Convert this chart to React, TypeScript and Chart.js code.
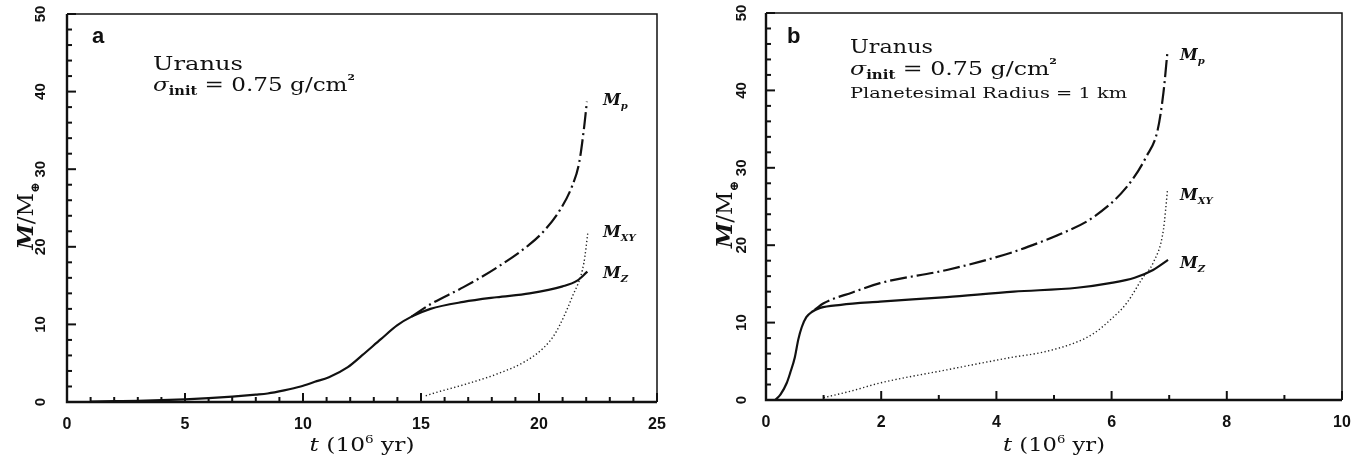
import React, { useEffect, useRef } from "react";
import { Chart, registerables } from "chart.js";

Chart.register(...registerables);

// ---------- Panel a data (t in 10^6 yr, M in Earth masses) ----------
const aTimeZ = [1.0, 2, 3, 4, 5, 6, 7, 8, 8.5, 9.2, 9.9, 10.5, 11.1, 11.9, 12.5, 13.3, 14.0, 14.6, 15.4, 16.8, 18.2, 19.6, 21.0, 21.6, 22.05];
const aMassZ = [0.05, 0.1, 0.15, 0.25, 0.35, 0.5, 0.7, 0.95, 1.1, 1.5, 2.0, 2.6, 3.2, 4.5, 6.0, 8.1, 9.9, 11.0, 12.0, 12.9, 13.5, 14.0, 14.9, 15.6, 16.8];
const aTimeP = [14.6, 15.4, 16.8, 18.2, 19.6, 20.2, 20.9, 21.4, 21.7, 21.9, 22.03];
const aMassP = [11.0, 12.6, 14.8, 17.3, 20.3, 22.0, 24.8, 27.8, 30.8, 35.1, 38.7];
const aTimeXY = [15.2, 15.5, 16.9, 18.3, 19.4, 20.2, 20.7, 21.4, 21.9, 22.07];
const aMassXY = [0.8, 1.1, 2.3, 3.7, 5.2, 7.0, 8.9, 13.5, 17.9, 21.8];

// ---------- Panel b data ----------
const bTimeZ = [0.16, 0.25, 0.36, 0.42, 0.5, 0.56, 0.62, 0.7, 0.8, 0.94, 1.3, 1.98, 3.14, 4.3, 5.4, 5.97, 6.4, 6.72, 6.98];
const bMassZ = [0, 0.7, 2.2, 3.5, 5.5, 7.8, 9.4, 10.7, 11.4, 11.9, 12.3, 12.7, 13.3, 14.0, 14.5, 15.1, 15.8, 16.8, 18.1];
const bTimeP = [0.85, 1.0, 1.5, 1.98, 3.14, 4.24, 4.8, 5.1, 5.68, 6.26, 6.6, 6.8, 6.9, 6.97];
const bMassP = [11.7, 12.5, 13.9, 15.1, 16.8, 19.0, 20.5, 21.4, 23.6, 27.5, 31.4, 34.9, 39.7, 45.0];
const bTimeXY = [1.0, 1.5, 1.98, 3.14, 4.26, 4.82, 5.4, 5.69, 5.97, 6.26, 6.55, 6.72, 6.9, 6.97];
const bMassXY = [0.3, 1.2, 2.2, 3.9, 5.5, 6.2, 7.5, 8.6, 10.3, 12.5, 15.9, 17.7, 22.0, 27.1];

// ---------- Axes ----------
const yTickLabels = [0, 10, 20, 30, 40, 50];
const aXTickLabels = [0, 5, 10, 15, 20, 25];
const bXTickLabels = [0, 2, 4, 6, 8, 10];

const INK = "#111111";
const SERIF = '"DejaVu Serif", serif';
const SANS = '"Liberation Sans", Arial, sans-serif';

type Seg = { t: string; font: string; dy?: number };

function pts(xs: number[], ys: number[]) {
  return xs.map((x, i) => ({ x, y: ys[i] }));
}

function drawRich(
  ctx: CanvasRenderingContext2D,
  segs: Seg[],
  x: number,
  y: number,
  opt: { align?: "left" | "center"; width?: number; rotate?: boolean }
) {
  ctx.save();
  let total = 0;
  const widths = segs.map((s) => {
    ctx.font = s.font;
    const w = ctx.measureText(s.t).width;
    total += w;
    return w;
  });
  const sx = opt.width ? opt.width / total : 1;
  ctx.translate(x, y);
  if (opt.rotate) ctx.rotate(-Math.PI / 2);
  ctx.scale(sx, 1);
  let cx = opt.align === "center" ? -total / 2 : 0;
  ctx.textBaseline = "alphabetic";
  ctx.textAlign = "left";
  ctx.fillStyle = INK;
  segs.forEach((s, i) => {
    ctx.font = s.font;
    ctx.fillText(s.t, cx, s.dy || 0);
    cx += widths[i];
  });
  ctx.restore();
}

type PanelCfg = {
  offset: number;
  yAxisWidth: number;
  padRight: number;
  padTop: number;
  xAxisHeight: number;
  xMax: number;
  xStep: number;
  xMinor: number;
  xTicks: number[];
  z: { x: number; y: number }[];
  p: { x: number; y: number }[];
  xy: { x: number; y: number }[];
  letter: string;
  letterPos: [number, number];
  texts: { segs: Seg[]; x: number; y: number; width: number }[];
  yLabelX: number;
  yTitleX: number;
  labelX: number;
  labelY: [number, number, number];
  xTitleWidth: number;
};

const mLabel = (sub: string): Seg[] => [
  { t: "M", font: `italic bold 16px ${SERIF}` },
  { t: sub, font: `italic bold 10px ${SERIF}`, dy: 4 },
];

const sigmaSegs: Seg[] = [
  { t: "σ", font: `italic 19px ${SERIF}` },
  { t: "init", font: `bold 12px ${SERIF}`, dy: 4 },
  { t: " = 0.75 g/cm", font: `19px ${SERIF}` },
  { t: "²", font: `bold 14px ${SERIF}`, dy: -6 },
];

const panels: PanelCfg[] = [
  {
    offset: 0,
    yAxisWidth: 67,
    padRight: 25,
    padTop: 14,
    xAxisHeight: 62,
    xMax: 25,
    xStep: 5,
    xMinor: 1,
    xTicks: aXTickLabels,
    z: pts(aTimeZ, aMassZ),
    p: pts(aTimeP, aMassP),
    xy: pts(aTimeXY, aMassXY),
    letter: "a",
    letterPos: [92, 43],
    texts: [
      { segs: [{ t: "Uranus", font: `19px ${SERIF}` }], x: 153, y: 70, width: 90 },
      { segs: sigmaSegs, x: 153, y: 91, width: 202 },
    ],
    yLabelX: 41,
    yTitleX: 33,
    labelX: 603,
    labelY: [105, 237, 278],
    xTitleWidth: 105,
  },
  {
    offset: 682,
    yAxisWidth: 84,
    padRight: 22,
    padTop: 13,
    xAxisHeight: 64,
    xMax: 10,
    xStep: 2,
    xMinor: 1,
    xTicks: bXTickLabels,
    z: pts(bTimeZ, bMassZ),
    p: pts(bTimeP, bMassP),
    xy: pts(bTimeXY, bMassXY),
    letter: "b",
    letterPos: [787, 43],
    texts: [
      { segs: [{ t: "Uranus", font: `19px ${SERIF}` }], x: 850, y: 53, width: 83 },
      { segs: sigmaSegs, x: 850, y: 75, width: 207 },
      { segs: [{ t: "Planetesimal Radius = 1 km", font: `15px ${SERIF}` }], x: 850, y: 98, width: 277 },
    ],
    yLabelX: 742,
    yTitleX: 732,
    labelX: 1180,
    labelY: [60, 200, 268],
    xTitleWidth: 102,
  },
];

function makePlugin(cfg: PanelCfg) {
  return {
    id: "decor",
    afterDraw(chart: any) {
      const ctx: CanvasRenderingContext2D = chart.ctx;
      const ca = chart.chartArea;
      const xs = chart.scales.x;
      const ys = chart.scales.y;
      const off = cfg.offset;
      ctx.save();
      ctx.strokeStyle = INK;
      // frame
      ctx.lineWidth = 1.5;
      ctx.beginPath();
      ctx.moveTo(ca.left, ca.top);
      ctx.lineTo(ca.right, ca.top);
      ctx.lineTo(ca.right, ca.bottom);
      ctx.stroke();
      ctx.lineWidth = 2.4;
      ctx.beginPath();
      ctx.moveTo(ca.left, ca.top);
      ctx.lineTo(ca.left, ca.bottom);
      ctx.lineTo(ca.right, ca.bottom);
      ctx.stroke();
      // y ticks (inward), minor every 2, major every 10
      ctx.lineWidth = 2;
      for (let v = 0; v <= 50.001; v += 2) {
        const py = ys.getPixelForValue(v);
        const len = Math.abs(v % 10) < 0.01 ? 9 : 5;
        ctx.beginPath();
        ctx.moveTo(ca.left, py);
        ctx.lineTo(ca.left + len, py);
        ctx.stroke();
      }
      // x ticks
      for (let v = 0; v <= cfg.xMax + 0.001; v += cfg.xMinor) {
        const px = xs.getPixelForValue(v);
        const major = Math.abs(v / cfg.xStep - Math.round(v / cfg.xStep)) < 0.001;
        const len = major ? 9 : 5;
        ctx.beginPath();
        ctx.moveTo(px, ca.bottom);
        ctx.lineTo(px, ca.bottom - len);
        ctx.stroke();
      }
      // y tick labels (rotated)
      ctx.fillStyle = INK;
      ctx.font = `bold 15px ${SANS}`;
      ctx.textAlign = "center";
      ctx.textBaseline = "middle";
      ys.ticks.forEach((tk: any) => {
        const py = ys.getPixelForValue(tk.value);
        ctx.save();
        ctx.translate(cfg.yLabelX - off, py);
        ctx.rotate(-Math.PI / 2);
        ctx.fillText(String(tk.value), 0, 0);
        ctx.restore();
      });
      // y title
      drawRich(
        ctx,
        [
          { t: "M", font: `italic bold 22px ${SERIF}` },
          { t: "/M", font: `22px ${SERIF}` },
          { t: "⊕", font: `bold 12px ${SERIF}`, dy: 6 },
        ],
        cfg.yTitleX - off,
        (ca.top + ca.bottom) / 2 + 8,
        { align: "center", rotate: true, width: 67 }
      );
      // x title
      drawRich(
        ctx,
        [
          { t: "t", font: `italic 19px ${SERIF}` },
          { t: " (10", font: `19px ${SERIF}` },
          { t: "6", font: `11px ${SERIF}`, dy: -8 },
          { t: " yr)", font: `19px ${SERIF}` },
        ],
        (ca.left + ca.right) / 2,
        451,
        { align: "center", width: cfg.xTitleWidth }
      );
      // panel letter
      drawRich(ctx, [{ t: cfg.letter, font: `bold 22px ${SANS}` }], cfg.letterPos[0] - off, cfg.letterPos[1], {});
      // annotation texts
      cfg.texts.forEach((tx) => drawRich(ctx, tx.segs, tx.x - off, tx.y, { width: tx.width }));
      // curve labels
      drawRich(ctx, mLabel("p"), cfg.labelX - off, cfg.labelY[0], {});
      drawRich(ctx, mLabel("XY"), cfg.labelX - off, cfg.labelY[1], {});
      drawRich(ctx, mLabel("Z"), cfg.labelX - off, cfg.labelY[2], {});
      ctx.restore();
    },
  };
}

function Panel({ cfg }: { cfg: PanelCfg }) {
  const ref = useRef<HTMLCanvasElement | null>(null);
  useEffect(() => {
    if (!ref.current) return;
    const common = { pointRadius: 0, fill: false, cubicInterpolationMode: "monotone" as const, borderColor: INK };
    const chart = new Chart(ref.current, {
      type: "line",
      data: {
        datasets: [
          { ...common, label: "Mz", data: cfg.z, borderWidth: 2.2 },
          { ...common, label: "Mp", data: cfg.p, borderWidth: 2.2, borderDash: [17, 4, 2, 4] },
          { ...common, label: "Mxy", data: cfg.xy, borderWidth: 1.4, borderDash: [1.3, 2.4], borderColor: "#222" },
        ],
      },
      options: {
        animation: false,
        responsive: false,
        devicePixelRatio: 1,
        layout: { padding: { left: 0, right: cfg.padRight, top: cfg.padTop, bottom: 0 } },
        plugins: { legend: { display: false }, tooltip: { enabled: false } },
        scales: {
          x: {
            type: "linear",
            min: 0,
            max: cfg.xMax,
            afterBuildTicks: (axis: any) => {
              axis.ticks = cfg.xTicks.map((v) => ({ value: v }));
            },
            ticks: {
              font: { family: SANS, size: 16, weight: "bold" },
              color: INK,
              padding: 13,
              maxRotation: 0,
              autoSkip: false,
            },
            grid: { display: false, drawTicks: false },
            border: { display: false },
            afterFit: (axis: any) => {
              axis.height = cfg.xAxisHeight;
            },
          },
          y: {
            type: "linear",
            min: 0,
            max: 50,
            afterBuildTicks: (axis: any) => {
              axis.ticks = yTickLabels.map((v) => ({ value: v }));
            },
            ticks: { display: false },
            grid: { display: false, drawTicks: false },
            border: { display: false },
            afterFit: (axis: any) => {
              axis.width = cfg.yAxisWidth;
            },
          },
        },
      } as any,
      plugins: [makePlugin(cfg)],
    });
    return () => chart.destroy();
  }, [cfg]);
  return (
    <canvas
      ref={ref}
      width={682}
      height={464}
      style={{ position: "absolute", left: cfg.offset, top: 0, width: 682, height: 464 }}
    />
  );
}

export default function App() {
  return (
    <div style={{ position: "absolute", left: 0, top: 0, width: 1364, height: 464, background: "#fff", overflow: "hidden" }}>
      {panels.map((p) => (
        <Panel key={p.offset} cfg={p} />
      ))}
    </div>
  );
}
